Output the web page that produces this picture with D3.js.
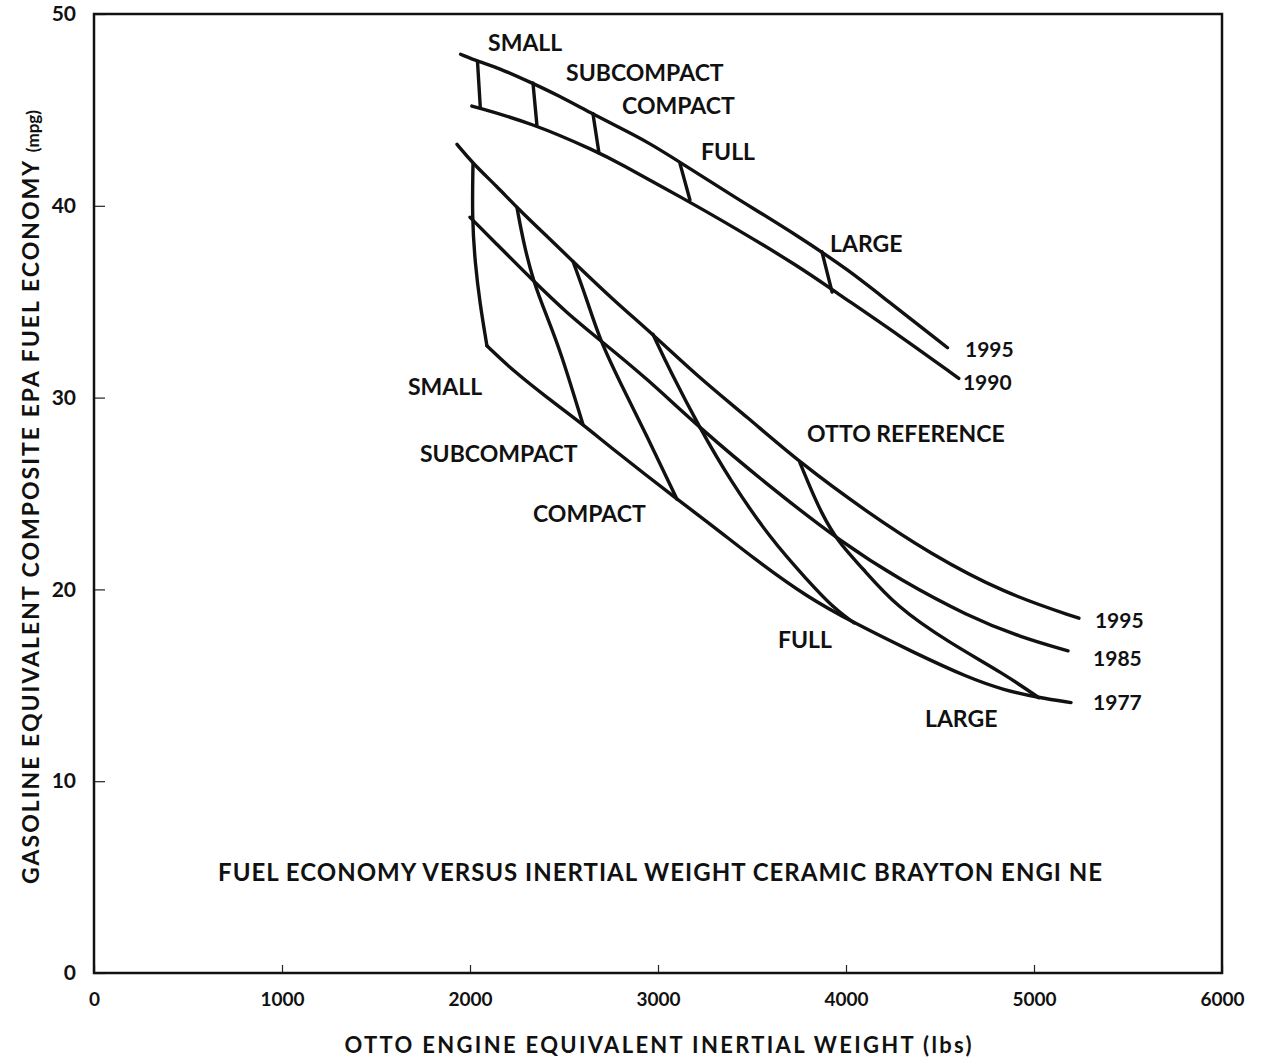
<!DOCTYPE html>
<html>
<head>
<meta charset="utf-8">
<script src="https://cdn.jsdelivr.net/npm/d3@7/dist/d3.min.js"></script>
<style>
    body { margin: 0; background: #fff; }
    #chart-first { width: 1261px; height: 1063px; }
    text { font-family: Lato, 'Open Sans', sans-serif; font-weight: 700; fill: #111; }
    .curve { fill: none; stroke: #111; stroke-width: 3.4; stroke-linecap: round; stroke-linejoin: round; }
    .frame { fill: none; stroke: #111; stroke-width: 2.5; }
    .tick line { stroke: #222; stroke-width: 1.2; }
</style>
</head>
<body>
<div id="chart-first"></div>
<script>
//Ejes
let xTicks = [0, 1000, 2000, 3000, 4000, 5000, 6000];
let yTicks = [0, 10, 20, 30, 40, 50];

//Grupo superior (lbs, mpg)
let upper1995 = [[1950, 47.9], [2050, 47.5], [2150, 47.2], [2330, 46.4], [2460, 45.8], [2650, 44.8], [2780, 44.15], [2950, 43.3], [3120, 42.25], [3400, 40.5], [3750, 38.4], [4020, 36.6], [4200, 35.2], [4540, 32.6]];
let upper1990 = [[2010, 45.2], [2335, 44.3], [2680, 42.8], [2780, 42.3], [3150, 40.3], [3400, 38.9], [3755, 36.8], [3930, 35.6], [4290, 33.2], [4600, 31.0]];
let upperSmall = [[2040, 47.5], [2055, 45.1]];
let upperSubcompact = [[2335, 46.4], [2356, 44.2]];
let upperCompact = [[2654, 44.8], [2686, 42.75]];
let upperFull = [[3117, 42.2], [3170, 40.3]];
let upperLarge = [[3872, 37.6], [3926, 35.5]];

//Grupo inferior (lbs, mpg)
let lower1995 = [[1931, 43.2], [2016, 42.2], [2144, 41.0], [2250, 39.9], [2410, 38.4], [2548, 37.1], [2761, 35.1], [2973, 33.3], [3223, 31.0], [3473, 29.0], [3755, 26.6], [4117, 24.0], [4441, 21.9], [4840, 19.8], [5239, 18.5]];
let lower1985 = [[2000, 39.4], [2122, 38.2], [2335, 36.1], [2516, 34.4], [2691, 33.0], [2941, 31.0], [3223, 28.4], [3601, 25.3], [3984, 22.4], [4287, 20.5], [4649, 18.6], [4931, 17.5], [5181, 16.8]];
let lower1977 = [[2090, 32.7], [2229, 31.4], [2410, 30.0], [2601, 28.6], [2761, 27.3], [3101, 24.7], [3293, 23.3], [3511, 21.6], [3793, 19.6], [4043, 18.25], [4362, 16.7], [4649, 15.4], [4840, 14.75], [5026, 14.35], [5197, 14.1]];
let lowerSmall = [[2016, 42.2], [2011, 39.4], [2027, 37.0], [2053, 34.9], [2090, 32.7]];
let lowerSubcompact = [[2250, 39.9], [2282, 38.2], [2335, 36.1], [2410, 34.2], [2479, 32.5], [2601, 28.6]];
let lowerCompact = [[2548, 37.1], [2622, 35.1], [2691, 33.0], [2798, 30.8], [2941, 28.0], [3101, 24.7]];
let lowerFull = [[2973, 33.3], [3064, 31.4], [3223, 28.4], [3383, 25.7], [3601, 22.6], [3793, 20.5], [3926, 19.1], [4043, 18.25]];
let lowerLarge = [[3755, 26.6], [3793, 25.7], [3867, 24.0], [3963, 22.4], [4080, 21.2], [4266, 19.1], [4553, 17.2], [4840, 15.6], [5026, 14.35]];

//Textos
let sizeNames = ['SMALL', 'SUBCOMPACT', 'COMPACT', 'FULL', 'LARGE'];
let upperYears = ['1995', '1990'];
let lowerYears = ['1995', '1985', '1977'];
let refName = 'OTTO REFERENCE';
let chartTitle = 'FUEL ECONOMY VERSUS INERTIAL WEIGHT CERAMIC BRAYTON ENGI NE';
let xTitle = 'OTTO ENGINE EQUIVALENT INERTIAL WEIGHT (lbs)';
let yTitle = 'GASOLINE EQUIVALENT COMPOSITE EPA FUEL ECONOMY';
let yUnit = '(mpg)';

function getFirstChart() {
    let chartBlock = d3.select('#chart-first');
    let margin = {top: 14, right: 39, bottom: 90, left: 94};
    let {width, height, chart} = setChart(chartBlock, margin);

    let x = d3.scaleLinear().domain([0, 6000]).range([0, width]);
    let y = d3.scaleLinear().domain([0, 50]).range([height, 0]);

    //Eje X
    chart.append('g')
        .attr('transform', 'translate(0,' + height + ')')
        .call(d3.axisBottom(x).tickValues(xTicks).tickSize(-8).tickPadding(20).tickFormat(d3.format('d')))
        .call(function(g){ g.select('.domain').remove(); })
        .call(function(g){ g.selectAll('.tick text').style('font-size', '19px'); });

    //Eje Y
    chart.append('g')
        .call(d3.axisLeft(y).tickValues(yTicks).tickSize(-11).tickPadding(18))
        .call(function(g){ g.select('.domain').remove(); })
        .call(function(g){ g.selectAll('.tick text').style('font-size', '21px'); });

    //Marco
    chart.append('rect')
        .attr('class', 'frame')
        .attr('x', x(0)).attr('y', y(50))
        .attr('width', x(6000) - x(0))
        .attr('height', y(0) - y(50));

    //Curvas
    let line = d3.line()
        .x(function(d) { return x(d[0]); })
        .y(function(d) { return y(d[1]); })
        .curve(d3.curveBasis);

    let curves = [upper1995, upper1990, upperSmall, upperSubcompact, upperCompact, upperFull, upperLarge,
        lower1995, lower1985, lower1977, lowerSmall, lowerSubcompact, lowerCompact, lowerFull, lowerLarge];

    chart.selectAll('.curve')
        .data(curves)
        .enter()
        .append('path')
        .attr('class', 'curve')
        .attr('d', line);

    //Etiquetas (posición en unidades de datos)
    let upperSpots = [[2096, 48.07], [2511, 46.5], [2809, 44.8], [3229, 42.4], [3915, 37.6]];
    let lowerSpots = [[1670, 30.14], [1734, 26.64], [2335, 23.5], [3638, 16.94], [4420, 12.83]];
    let upperYearSpots = [[4633, 32.12], [4622, 30.4]];
    let lowerYearSpots = [[5324, 17.99], [5314, 16.01], [5314, 13.71]];

    let labels = [];
    sizeNames.forEach(function(d, i) { labels.push({t: d, p: upperSpots[i]}); });
    sizeNames.forEach(function(d, i) { labels.push({t: d, p: lowerSpots[i]}); });
    upperYears.forEach(function(d, i) { labels.push({t: d, p: upperYearSpots[i]}); });
    lowerYears.forEach(function(d, i) { labels.push({t: d, p: lowerYearSpots[i]}); });
    labels.push({t: refName, p: [3793, 27.7]});

    chart.selectAll('.label')
        .data(labels)
        .enter()
        .append('text')
        .attr('class', 'label')
        .attr('x', function(d) { return x(d.p[0]); })
        .attr('y', function(d) { return y(d.p[1]); })
        .style('font-size', function(d) { return /^\d+$/.test(d.t) ? '21px' : '23px'; })
        .text(function(d) { return d.t; });

    //Títulos
    chart.append('text')
        .attr('x', x(660)).attr('y', y(4.8))
        .attr('textLength', 884)
        .style('font-size', '24px')
        .text(chartTitle);

    chart.append('text')
        .attr('x', 564).attr('y', height + 80)
        .attr('text-anchor', 'middle')
        .attr('textLength', 627)
        .style('font-size', '22px')
        .text(xTitle);

    let yt = chart.append('text')
        .attr('transform', 'translate(' + (39 - margin.left) + ',' + (497 - margin.top) + ') rotate(-90)')
        .attr('text-anchor', 'middle')
        .style('font-size', '23px')
        .style('letter-spacing', '2px');
    yt.append('tspan').text(yTitle + ' ');
    yt.append('tspan').style('font-size', '17px').style('letter-spacing', '0px').text(yUnit);
}

getFirstChart();

function setChart(chartBlock, margin) {
    let width = parseInt(chartBlock.style('width')) - margin.left - margin.right,
    height = parseInt(chartBlock.style('height')) - margin.top - margin.bottom;

    let chart = chartBlock
        .append('svg')
        .attr('width', width + margin.left + margin.right)
        .attr('height', height + margin.top + margin.bottom)
        .append('g')
        .attr('transform', 'translate(' + margin.left + ',' + margin.top + ')');

    return {margin, width, height, chart};
}
</script>
</body>
</html>
